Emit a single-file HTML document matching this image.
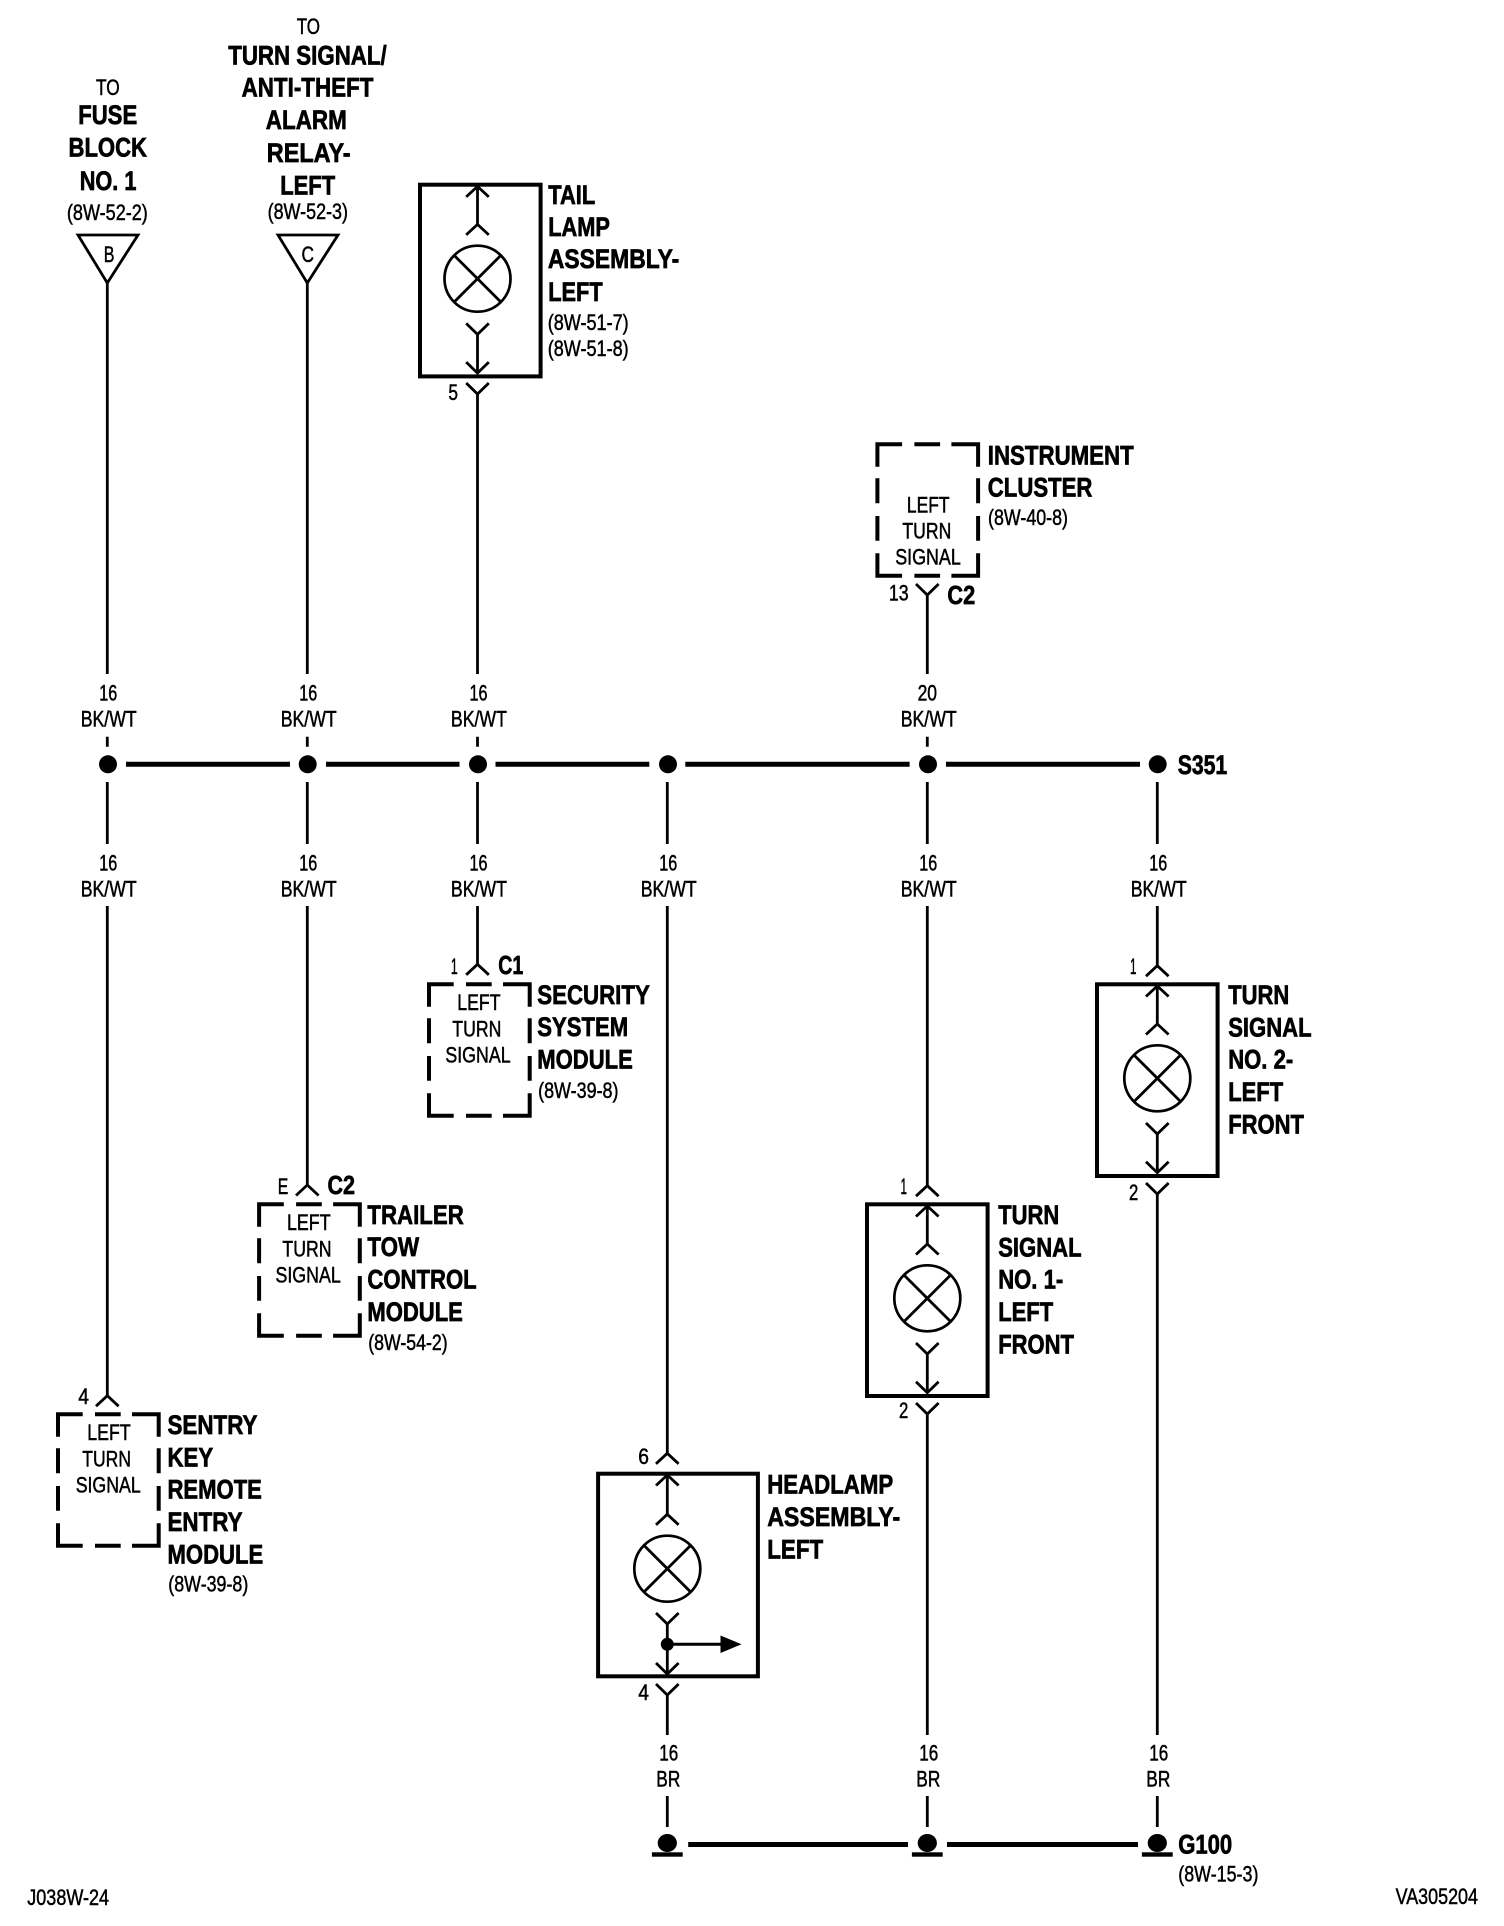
<!DOCTYPE html>
<html><head><meta charset="utf-8"><style>
html,body{margin:0;padding:0;background:#fff}
svg{display:block}
text{font-family:"Liberation Sans",sans-serif;fill:#000}
.b{font-weight:bold;font-size:27px;stroke:#000;stroke-width:.7;transform:translateX(-.8px)}
.r{font-size:22.5px;stroke:#000;stroke-width:.5}
.s{font-size:22.5px;stroke:#000;stroke-width:.5}
.w{fill:none;stroke:#000;stroke-width:2.8}
.h{fill:none;stroke:#000;stroke-width:5}
</style></head><body>
<svg width="1504" height="1926" viewBox="0 0 1504 1926" xmlns="http://www.w3.org/2000/svg">
<defs>
<path id="up" class="w" d="M-11.3 10.5L0 0L11.3 10.5"/>
<path id="dn" class="w" d="M-11.3 -11L0 0L11.3 -11"/>
<g id="bulb"><circle r="33" fill="none" stroke="#000" stroke-width="2.7"/><path class="w" d="M-22.6 -22.6L22.6 22.6M22.6 -22.6L-22.6 22.6"/></g>
<g id="lamp">
<use href="#up" y="3.7"/><path class="w" d="M0 3.7V41.7"/><use href="#up" y="41.7"/>
<use href="#bulb" y="96"/>
<use href="#dn" y="151.7"/><path class="w" d="M0 151.7V190.4"/><use href="#dn" y="190.4"/>
</g>
<path id="dash" fill="none" stroke="#000" stroke-width="4" d="M2 24.4V2H26.7M39 2H64.7M76 2H102.7V24.4M2 36V61M2 73.7V98.4M2 111V133.4H26.7M39 133.4H64.7M76 133.4H102.7V111M102.7 36V61M102.7 73.7V98.4"/>
<g id="gnd"><ellipse cx="0" cy="-1" rx="9.6" ry="9" fill="#000"/><rect x="-15.4" y="8.3" width="30.8" height="4.4" fill="#000"/></g>
</defs>

<!-- wires -->
<path class="w" d="M107.3 283V674M107.3 736.7V746.7M107.3 782V844M107.3 906V1396"/>
<path class="w" d="M307.3 283V674M307.3 736.7V746.7M307.3 782V844M307.3 906V1185"/>
<path class="w" d="M477.5 394V674M477.5 736.7V746.7M477.5 782V844M477.5 906V964.3"/>
<path class="w" d="M667.3 782V844M667.3 906V1453.3M667.3 1695V1735M667.3 1796V1827"/>
<path class="w" d="M927.3 595V674M927.3 736.7V746.7M927.3 782V844M927.3 906V1185.7M927.3 1414V1735M927.3 1796V1827"/>
<path class="w" d="M1157.3 782V844M1157.3 906V965.7M1157.3 1194V1735M1157.3 1796V1827"/>

<!-- bus -->
<path class="h" d="M126 764.3H290M326 764.3H459.5M495.5 764.3H649.3M685.3 764.3H909.6M946 764.3H1140"/>
<g fill="#000">
<circle cx="108" cy="764.3" r="9"/><circle cx="307.7" cy="764.3" r="9"/><circle cx="478" cy="764.3" r="9"/><circle cx="668" cy="764.3" r="9"/><circle cx="928" cy="764.3" r="9"/><circle cx="1157.7" cy="764.3" r="9"/>
</g>
<!-- ground bus -->
<path class="h" d="M688.2 1844.5H908M947 1844.5H1138"/>
<use href="#gnd" x="667.3" y="1844"/><use href="#gnd" x="927.3" y="1844"/><use href="#gnd" x="1157.3" y="1844"/>

<!-- triangles -->
<path fill="none" stroke="#000" stroke-width="2.8" d="M78 235H138L107.3 283Z"/>
<path fill="none" stroke="#000" stroke-width="2.8" d="M278 235H338L307.3 283Z"/>

<!-- lamps -->
<rect x="420" y="184.7" width="120.6" height="191.7" fill="none" stroke="#000" stroke-width="4"/>
<use href="#lamp" x="477.5" y="182.7"/>
<use href="#dn" x="477.5" y="394"/>
<rect x="1097" y="984.3" width="120.6" height="191.7" fill="none" stroke="#000" stroke-width="4"/>
<use href="#lamp" x="1157.3" y="982.3"/>
<use href="#up" x="1157.3" y="965.7"/><use href="#dn" x="1157.3" y="1194"/>
<rect x="867" y="1204.3" width="120.6" height="191.7" fill="none" stroke="#000" stroke-width="4"/>
<use href="#lamp" x="927.3" y="1202.3"/>
<use href="#up" x="927.3" y="1185.7"/><use href="#dn" x="927.3" y="1414"/>

<!-- headlamp -->
<rect x="598.1" y="1473.7" width="159.8" height="202.6" fill="none" stroke="#000" stroke-width="4"/>
<use href="#up" x="667.3" y="1453.3"/>
<use href="#up" x="667.3" y="1475"/><path class="w" d="M667.3 1475V1514.3"/><use href="#up" x="667.3" y="1514.3"/>
<use href="#bulb" x="667.3" y="1568.7"/>
<use href="#dn" x="667.3" y="1624"/><path class="w" d="M667.3 1624V1674"/><use href="#dn" x="667.3" y="1674"/>
<circle cx="667.3" cy="1644.3" r="6.5" fill="#000"/>
<path d="M667.3 1644.3H722" fill="none" stroke="#000" stroke-width="3"/>
<path d="M720.5 1635.5L741.5 1644.3L720.5 1653Z" fill="#000"/>
<use href="#dn" x="667.3" y="1695"/>

<!-- dashed modules -->
<use href="#dash" x="875.4" y="442.3"/><use href="#dn" x="927.3" y="595"/>
<use href="#dash" x="427" y="982.3"/><use href="#up" x="477.5" y="964.3"/>
<use href="#dash" x="257.1" y="1202.3"/><use href="#up" x="307.3" y="1185"/>
<use href="#dash" x="56" y="1412.3"/><use href="#up" x="107.3" y="1395.7"/>

<!-- top-left labels -->
<text class="r" x="96" y="95" textLength="23.7" lengthAdjust="spacingAndGlyphs">TO</text>
<text class="b" x="79" y="124" textLength="59" lengthAdjust="spacingAndGlyphs">FUSE</text>
<text class="b" x="69.3" y="156.7" textLength="78.5" lengthAdjust="spacingAndGlyphs">BLOCK</text>
<text class="b" x="80.5" y="190" textLength="56.7" lengthAdjust="spacingAndGlyphs">NO. 1</text>
<text class="s" x="66.9" y="220" textLength="80.9" lengthAdjust="spacingAndGlyphs">(8W-52-2)</text>
<text class="s" x="103.7" y="262" textLength="10.7" lengthAdjust="spacingAndGlyphs">B</text>
<text class="s" x="301.5" y="262" textLength="12.5" lengthAdjust="spacingAndGlyphs">C</text>
<text class="r" x="296.7" y="34" textLength="23.3" lengthAdjust="spacingAndGlyphs">TO</text>
<text class="b" x="229" y="64.5" textLength="158.5" lengthAdjust="spacingAndGlyphs">TURN SIGNAL/</text>
<text class="b" x="242.4" y="96.7" textLength="131.8" lengthAdjust="spacingAndGlyphs">ANTI-THEFT</text>
<text class="b" x="266.6" y="129" textLength="81" lengthAdjust="spacingAndGlyphs">ALARM</text>
<text class="b" x="267.6" y="162" textLength="83.8" lengthAdjust="spacingAndGlyphs">RELAY-</text>
<text class="b" x="281" y="194.3" textLength="55" lengthAdjust="spacingAndGlyphs">LEFT</text>
<text class="s" x="267.6" y="219" textLength="80.4" lengthAdjust="spacingAndGlyphs">(8W-52-3)</text>

<!-- tail lamp -->
<text class="b" x="549" y="204" textLength="47" lengthAdjust="spacingAndGlyphs">TAIL</text>
<text class="b" x="549" y="236" textLength="61.7" lengthAdjust="spacingAndGlyphs">LAMP</text>
<text class="b" x="548.7" y="268" textLength="131.3" lengthAdjust="spacingAndGlyphs">ASSEMBLY-</text>
<text class="b" x="549" y="301" textLength="54.5" lengthAdjust="spacingAndGlyphs">LEFT</text>
<text class="s" x="547.7" y="330" textLength="81" lengthAdjust="spacingAndGlyphs">(8W-51-7)</text>
<text class="s" x="547.7" y="356" textLength="81" lengthAdjust="spacingAndGlyphs">(8W-51-8)</text>
<text class="s" x="448.4" y="400" textLength="9.6" lengthAdjust="spacingAndGlyphs">5</text>

<!-- instrument cluster -->
<text class="s" x="906.9" y="512.7" textLength="42.6" lengthAdjust="spacingAndGlyphs">LEFT</text>
<text class="s" x="902.4" y="538.7" textLength="48.9" lengthAdjust="spacingAndGlyphs">TURN</text>
<text class="s" x="895.2" y="564.3" textLength="65.6" lengthAdjust="spacingAndGlyphs">SIGNAL</text>
<text class="b" x="988.6" y="464.3" textLength="145.9" lengthAdjust="spacingAndGlyphs">INSTRUMENT</text>
<text class="b" x="988.6" y="496.7" textLength="104.6" lengthAdjust="spacingAndGlyphs">CLUSTER</text>
<text class="s" x="988" y="525" textLength="80" lengthAdjust="spacingAndGlyphs">(8W-40-8)</text>
<text class="s" x="888.9" y="600.7" textLength="19.8" lengthAdjust="spacingAndGlyphs">13</text>
<text class="b" style="font-size:26px" x="948.2" y="604" textLength="27.8" lengthAdjust="spacingAndGlyphs">C2</text>

<!-- wire labels upper -->
<text class="s" x="99.3" y="700.7" textLength="18" lengthAdjust="spacingAndGlyphs">16</text>
<text class="s" x="80.7" y="726.7" textLength="56" lengthAdjust="spacingAndGlyphs">BK/WT</text>
<text class="s" x="299.3" y="700.7" textLength="18" lengthAdjust="spacingAndGlyphs">16</text>
<text class="s" x="280.7" y="726.7" textLength="56" lengthAdjust="spacingAndGlyphs">BK/WT</text>
<text class="s" x="469.5" y="700.7" textLength="18" lengthAdjust="spacingAndGlyphs">16</text>
<text class="s" x="450.9" y="726.7" textLength="56" lengthAdjust="spacingAndGlyphs">BK/WT</text>
<text class="s" x="917.6" y="700.7" textLength="19.4" lengthAdjust="spacingAndGlyphs">20</text>
<text class="s" x="900.7" y="726.7" textLength="56" lengthAdjust="spacingAndGlyphs">BK/WT</text>
<text class="b" x="1178.5" y="774" textLength="49.5" lengthAdjust="spacingAndGlyphs">S351</text>

<!-- wire labels lower -->
<text class="s" x="99.3" y="870.7" textLength="18" lengthAdjust="spacingAndGlyphs">16</text>
<text class="s" x="80.7" y="896.7" textLength="56" lengthAdjust="spacingAndGlyphs">BK/WT</text>
<text class="s" x="299.3" y="870.7" textLength="18" lengthAdjust="spacingAndGlyphs">16</text>
<text class="s" x="280.7" y="896.7" textLength="56" lengthAdjust="spacingAndGlyphs">BK/WT</text>
<text class="s" x="469.5" y="870.7" textLength="18" lengthAdjust="spacingAndGlyphs">16</text>
<text class="s" x="450.9" y="896.7" textLength="56" lengthAdjust="spacingAndGlyphs">BK/WT</text>
<text class="s" x="659.3" y="870.7" textLength="18" lengthAdjust="spacingAndGlyphs">16</text>
<text class="s" x="640.7" y="896.7" textLength="56" lengthAdjust="spacingAndGlyphs">BK/WT</text>
<text class="s" x="919.3" y="870.7" textLength="18" lengthAdjust="spacingAndGlyphs">16</text>
<text class="s" x="900.7" y="896.7" textLength="56" lengthAdjust="spacingAndGlyphs">BK/WT</text>
<text class="s" x="1149.3" y="870.7" textLength="18" lengthAdjust="spacingAndGlyphs">16</text>
<text class="s" x="1130.7" y="896.7" textLength="56" lengthAdjust="spacingAndGlyphs">BK/WT</text>

<!-- security -->
<text class="s" x="450.9" y="974" textLength="6.8" lengthAdjust="spacingAndGlyphs">1</text>
<text class="b" style="font-size:26px" x="499" y="974" textLength="25" lengthAdjust="spacingAndGlyphs">C1</text>
<text class="s" x="457.3" y="1010" textLength="43.2" lengthAdjust="spacingAndGlyphs">LEFT</text>
<text class="s" x="452.3" y="1036.7" textLength="49.1" lengthAdjust="spacingAndGlyphs">TURN</text>
<text class="s" x="445.4" y="1062.3" textLength="65.2" lengthAdjust="spacingAndGlyphs">SIGNAL</text>
<text class="b" x="538.1" y="1004" textLength="112.5" lengthAdjust="spacingAndGlyphs">SECURITY</text>
<text class="b" x="538.1" y="1036" textLength="90.9" lengthAdjust="spacingAndGlyphs">SYSTEM</text>
<text class="b" x="538.1" y="1068.6" textLength="95.5" lengthAdjust="spacingAndGlyphs">MODULE</text>
<text class="s" x="538.1" y="1098" textLength="80.4" lengthAdjust="spacingAndGlyphs">(8W-39-8)</text>

<!-- trailer -->
<text class="s" x="277.8" y="1194" textLength="10.5" lengthAdjust="spacingAndGlyphs">E</text>
<text class="b" style="font-size:26px" x="328.3" y="1194" textLength="27.5" lengthAdjust="spacingAndGlyphs">C2</text>
<text class="s" x="287" y="1230" textLength="43.6" lengthAdjust="spacingAndGlyphs">LEFT</text>
<text class="s" x="282.4" y="1256.7" textLength="49.1" lengthAdjust="spacingAndGlyphs">TURN</text>
<text class="s" x="275.5" y="1282.3" textLength="65.2" lengthAdjust="spacingAndGlyphs">SIGNAL</text>
<text class="b" x="368.2" y="1224" textLength="96.4" lengthAdjust="spacingAndGlyphs">TRAILER</text>
<text class="b" x="368.2" y="1256" textLength="51.8" lengthAdjust="spacingAndGlyphs">TOW</text>
<text class="b" x="368.2" y="1288.6" textLength="109.3" lengthAdjust="spacingAndGlyphs">CONTROL</text>
<text class="b" x="368.2" y="1321" textLength="95.5" lengthAdjust="spacingAndGlyphs">MODULE</text>
<text class="s" x="368.2" y="1350" textLength="79.5" lengthAdjust="spacingAndGlyphs">(8W-54-2)</text>

<!-- sentry -->
<text class="s" x="78.3" y="1404" textLength="10.7" lengthAdjust="spacingAndGlyphs">4</text>
<text class="s" x="87.3" y="1440" textLength="43.4" lengthAdjust="spacingAndGlyphs">LEFT</text>
<text class="s" x="82.3" y="1466.7" textLength="48.7" lengthAdjust="spacingAndGlyphs">TURN</text>
<text class="s" x="75.7" y="1492.3" textLength="65" lengthAdjust="spacingAndGlyphs">SIGNAL</text>
<text class="b" x="168.3" y="1434" textLength="90" lengthAdjust="spacingAndGlyphs">SENTRY</text>
<text class="b" x="168.3" y="1466.7" textLength="45.7" lengthAdjust="spacingAndGlyphs">KEY</text>
<text class="b" x="168.3" y="1498.6" textLength="94.4" lengthAdjust="spacingAndGlyphs">REMOTE</text>
<text class="b" x="168.3" y="1531" textLength="75" lengthAdjust="spacingAndGlyphs">ENTRY</text>
<text class="b" x="168.3" y="1563.6" textLength="95.7" lengthAdjust="spacingAndGlyphs">MODULE</text>
<text class="s" x="168.3" y="1591.7" textLength="80" lengthAdjust="spacingAndGlyphs">(8W-39-8)</text>

<!-- turn signal 2 -->
<text class="s" x="1130" y="974" textLength="6.5" lengthAdjust="spacingAndGlyphs">1</text>
<text class="s" x="1129" y="1200" textLength="9.3" lengthAdjust="spacingAndGlyphs">2</text>
<text class="b" x="1229" y="1004" textLength="61" lengthAdjust="spacingAndGlyphs">TURN</text>
<text class="b" x="1229" y="1036.3" textLength="83.4" lengthAdjust="spacingAndGlyphs">SIGNAL</text>
<text class="b" x="1229" y="1068.3" textLength="65" lengthAdjust="spacingAndGlyphs">NO. 2-</text>
<text class="b" x="1229" y="1101" textLength="55" lengthAdjust="spacingAndGlyphs">LEFT</text>
<text class="b" x="1229" y="1133.7" textLength="75.7" lengthAdjust="spacingAndGlyphs">FRONT</text>

<!-- turn signal 1 -->
<text class="s" x="900.5" y="1194" textLength="6.5" lengthAdjust="spacingAndGlyphs">1</text>
<text class="s" x="899" y="1418" textLength="9.3" lengthAdjust="spacingAndGlyphs">2</text>
<text class="b" x="999" y="1224" textLength="61" lengthAdjust="spacingAndGlyphs">TURN</text>
<text class="b" x="999" y="1256.3" textLength="83.4" lengthAdjust="spacingAndGlyphs">SIGNAL</text>
<text class="b" x="999" y="1288.3" textLength="65" lengthAdjust="spacingAndGlyphs">NO. 1-</text>
<text class="b" x="999" y="1321" textLength="55" lengthAdjust="spacingAndGlyphs">LEFT</text>
<text class="b" x="999" y="1353.7" textLength="75.7" lengthAdjust="spacingAndGlyphs">FRONT</text>

<!-- headlamp labels -->
<text class="s" x="638.3" y="1464" textLength="10.7" lengthAdjust="spacingAndGlyphs">6</text>
<text class="s" x="638.3" y="1700" textLength="10.7" lengthAdjust="spacingAndGlyphs">4</text>
<text class="b" x="768" y="1493.4" textLength="126" lengthAdjust="spacingAndGlyphs">HEADLAMP</text>
<text class="b" x="768" y="1526" textLength="133" lengthAdjust="spacingAndGlyphs">ASSEMBLY-</text>
<text class="b" x="768" y="1558.6" textLength="56" lengthAdjust="spacingAndGlyphs">LEFT</text>

<!-- ground wire labels -->
<text class="s" x="659.3" y="1760.7" textLength="19" lengthAdjust="spacingAndGlyphs">16</text>
<text class="s" x="656.3" y="1786.7" textLength="24" lengthAdjust="spacingAndGlyphs">BR</text>
<text class="s" x="919.3" y="1760.7" textLength="19" lengthAdjust="spacingAndGlyphs">16</text>
<text class="s" x="916.3" y="1786.7" textLength="24" lengthAdjust="spacingAndGlyphs">BR</text>
<text class="s" x="1149.3" y="1760.7" textLength="19" lengthAdjust="spacingAndGlyphs">16</text>
<text class="s" x="1146.3" y="1786.7" textLength="24" lengthAdjust="spacingAndGlyphs">BR</text>
<text class="b" x="1179" y="1853.3" textLength="54" lengthAdjust="spacingAndGlyphs">G100</text>
<text class="s" x="1178.3" y="1881.7" textLength="80.1" lengthAdjust="spacingAndGlyphs">(8W-15-3)</text>

<!-- corner labels -->
<text class="s" x="27.3" y="1905" textLength="81.7" lengthAdjust="spacingAndGlyphs">J038W-24</text>
<text class="s" x="1395.6" y="1904" textLength="82.4" lengthAdjust="spacingAndGlyphs">VA305204</text>
</svg>
</body></html>
